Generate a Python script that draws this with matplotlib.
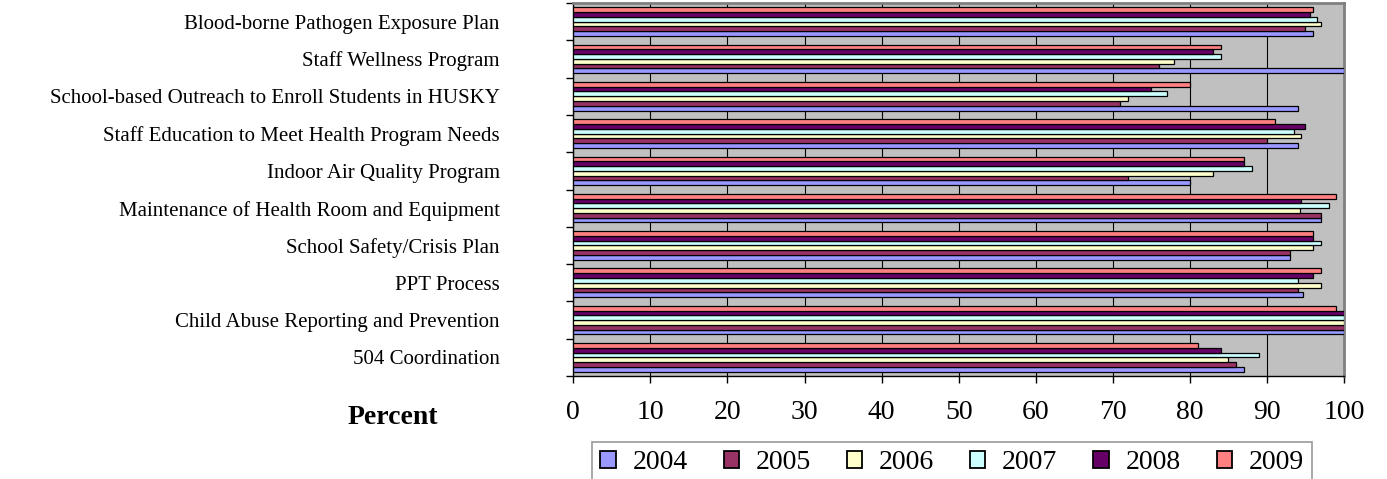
import numpy as np
import matplotlib
matplotlib.use("Agg")
import matplotlib.pyplot as plt

# categories listed bottom to top
programs = [
    "504 Coordination",
    "Child Abuse Reporting and Prevention",
    "PPT Process",
    "School Safety/Crisis Plan",
    "Maintenance of Health Room and Equipment",
    "Indoor Air Quality Program",
    "Staff Education to Meet Health Program Needs",
    "School-based Outreach to Enroll Students in HUSKY",
    "Staff Wellness Program",
    "Blood-borne Pathogen Exposure Plan",
]
years = ["2004", "2005", "2006", "2007", "2008", "2009"]

pct_2004 = [87, 100, 94.7, 93, 97, 80, 94, 94, 100, 96]
pct_2005 = [86, 100, 94, 93, 97, 72, 90, 71, 76, 95]
pct_2006 = [85, 100, 97, 96, 94.3, 83, 94.4, 72, 78, 97]
pct_2007 = [89, 100, 94, 97, 98, 88, 93.5, 77, 84, 96.5]
pct_2008 = [84, 100, 96, 96, 94.4, 87, 95, 75, 83, 95.6]
pct_2009 = [81, 99, 97, 96, 99, 87, 91, 80, 84, 96]

series = [pct_2004, pct_2005, pct_2006, pct_2007, pct_2008, pct_2009]
colors = ["#9999FF", "#993366", "#FFFFCC", "#CCFFFF", "#660066", "#FF8080"]

plt.rcParams["font.family"] = ["Liberation Serif", "DejaVu Serif"]

fig = plt.figure(figsize=(13.87, 4.79), dpi=100)
ax = fig.add_axes([573.3 / 1387, 1 - 376 / 479, (1344 - 573.3) / 1387, (376 - 3) / 479])
ax.set_facecolor("#C0C0C0")

y = np.arange(len(programs))
bar_h = 0.128
for i, (vals, col, yr) in enumerate(zip(series, colors, years)):
    ax.barh(y + (i - 2.5) * bar_h, vals, height=bar_h, color=col,
            edgecolor="black", linewidth=0.9, label=yr, zorder=3)

ax.set_xlim(0, 100)
ax.set_ylim(-0.5, len(programs) - 0.5)
ax.set_xticks(np.arange(0, 101, 10))
ax.tick_params(axis="x", direction="out", length=5, width=1, labelsize=20, pad=12)
ax.grid(axis="x", color="black", linewidth=0.8, zorder=1)

ax.set_yticks(y)
ax.set_yticklabels(programs, fontsize=15)
ax.tick_params(axis="y", which="major", length=0, pad=53)
ax.set_yticks(np.arange(-0.5, len(programs)), minor=True)
ax.tick_params(axis="y", which="minor", direction="out", length=5, width=1, color="black")

for side in ["top", "right"]:
    ax.spines[side].set_color("#808080")
    ax.spines[side].set_linewidth(2)
for side in ["left", "bottom"]:
    ax.spines[side].set_color("black")
    ax.spines[side].set_linewidth(1)

fig.text(393 / 1387, 1 - 417 / 479, "Percent", fontsize=20, fontweight="bold",
         ha="center", va="center")

leg = fig.legend(loc="upper left", bbox_to_anchor=(592 / 1387, 1 - 442 / 479),
                 ncol=6, fontsize=20, handlelength=0.55, handleheight=0.55,
                 handletextpad=0.6, columnspacing=1.3, frameon=True,
                 fancybox=False, borderpad=0.3, borderaxespad=0)
leg.get_frame().set_edgecolor("#808080")
leg.get_frame().set_linewidth(1.2)
for h in leg.legend_handles:
    h.set_linewidth(1.3)

fig.savefig("out.png", dpi=100)
